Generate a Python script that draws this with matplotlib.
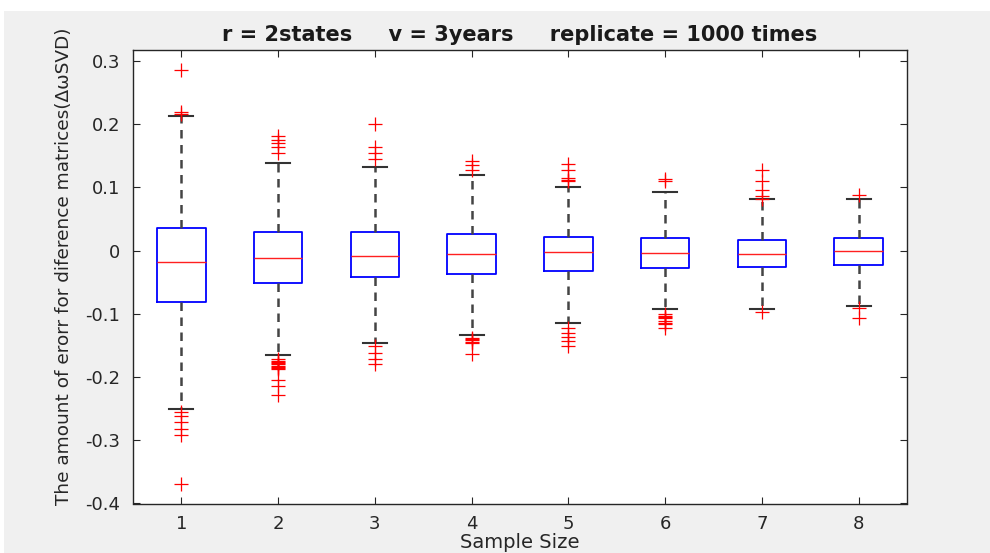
import matplotlib
matplotlib.use("Agg")
import matplotlib.pyplot as plt
from matplotlib.patches import Rectangle

plt.rcParams['font.family'] = ['DejaVu Sans']

# box statistics
positions = [1, 2, 3, 4, 5, 6, 7, 8]
medians = [-0.018, -0.012, -0.009, -0.006, -0.003, -0.004, -0.005, -0.001]
q1 = [-0.081, -0.052, -0.042, -0.037, -0.033, -0.027, -0.026, -0.023]
q3 = [0.036, 0.029, 0.030, 0.026, 0.022, 0.019, 0.017, 0.019]
whis_lo = [-0.250, -0.166, -0.147, -0.133, -0.114, -0.093, -0.092, -0.088]
whis_hi = [0.213, 0.139, 0.132, 0.120, 0.101, 0.092, 0.081, 0.082]
outliers = [
    [0.286, 0.219, 0.216, -0.255, -0.261, -0.271, -0.282, -0.291, -0.369],
    [0.181, 0.175, 0.170, 0.164, 0.154, -0.172, -0.174, -0.176, -0.178,
     -0.180, -0.182, -0.184, -0.186, -0.188, -0.204, -0.214, -0.229],
    [0.200, 0.164, 0.154, 0.144, -0.151, -0.162, -0.172, -0.180],
    [0.141, 0.135, 0.128, -0.138, -0.140, -0.142, -0.144, -0.146, -0.164],
    [0.136, 0.128, 0.115, 0.112, 0.110, -0.122, -0.130, -0.136, -0.143, -0.151],
    [0.113, 0.110, -0.101, -0.103, -0.105, -0.107, -0.112, -0.114, -0.116, -0.122],
    [0.127, 0.110, 0.096, 0.086, 0.082, -0.098],
    [0.087, -0.091, -0.106],
]
yticks = [-0.4, -0.3, -0.2, -0.1, 0, 0.1, 0.2, 0.3]
ytick_labels = ['-0.4', '-0.3', '-0.2', '-0.1', '0', '0.1', '0.2', '0.3']

stats = []
for i in range(len(positions)):
    stats.append({
        'med': medians[i], 'q1': q1[i], 'q3': q3[i],
        'whislo': whis_lo[i], 'whishi': whis_hi[i],
        'fliers': outliers[i],
    })

fig = plt.figure(figsize=(9.9, 5.53), dpi=100, facecolor='white')
# MATLAB-style grey figure panel behind the axes
fig.add_artist(Rectangle((4 / 990, 0), 1, 1 - 11 / 553, transform=fig.transFigure,
                         facecolor='#f0f0f0', edgecolor='none', zorder=-10))
ax = fig.add_axes([133 / 990, 1 - 503.5 / 553, (907 - 133) / 990, (503.5 - 50) / 553])
ax.set_zorder(1)

ax.bxp(stats, positions=positions, widths=0.5, showfliers=True,
       boxprops=dict(color='#0000ff', linewidth=1.3),
       medianprops=dict(color='#ff2020', linewidth=1.0),
       whiskerprops=dict(color='#444444', linewidth=1.8, linestyle=(0, (3.4, 2.6))),
       capprops=dict(color='#333333', linewidth=1.5),
       flierprops=dict(marker='+', markeredgecolor='red', markersize=10,
                       markeredgewidth=0.9, linestyle='none'))

ax.set_xlim(0.5, 8.5)
ax.set_ylim(-0.4, 0.317)
ax.set_xticks(positions)
ax.set_xticklabels([str(p) for p in positions])
ax.set_yticks(yticks)
ax.set_yticklabels(ytick_labels)
ax.tick_params(direction='in', length=5, width=0.8, top=True, right=True,
               labelsize=13, colors='#262626')
ax.tick_params(axis='x', pad=8)
ax.tick_params(axis='y', pad=9)
for s in ax.spines.values():
    s.set_color('#262626')
    s.set_linewidth(1.0)

ax.set_title('r = 2states     v = 3years     replicate = 1000 times',
             fontsize=15, fontweight='bold', color='#1a1a1a', pad=6.5)
ax.set_xlabel('Sample Size', fontsize=14, color='#262626', labelpad=0)
ax.set_ylabel('The amount of erorr for diference matrices(\u0394\u03c9SVD)',
              fontsize=13.3, color='#262626')
ax.yaxis.set_label_coords(-0.078, 0.523)

fig.savefig('out.png', dpi=100, facecolor=fig.get_facecolor())
